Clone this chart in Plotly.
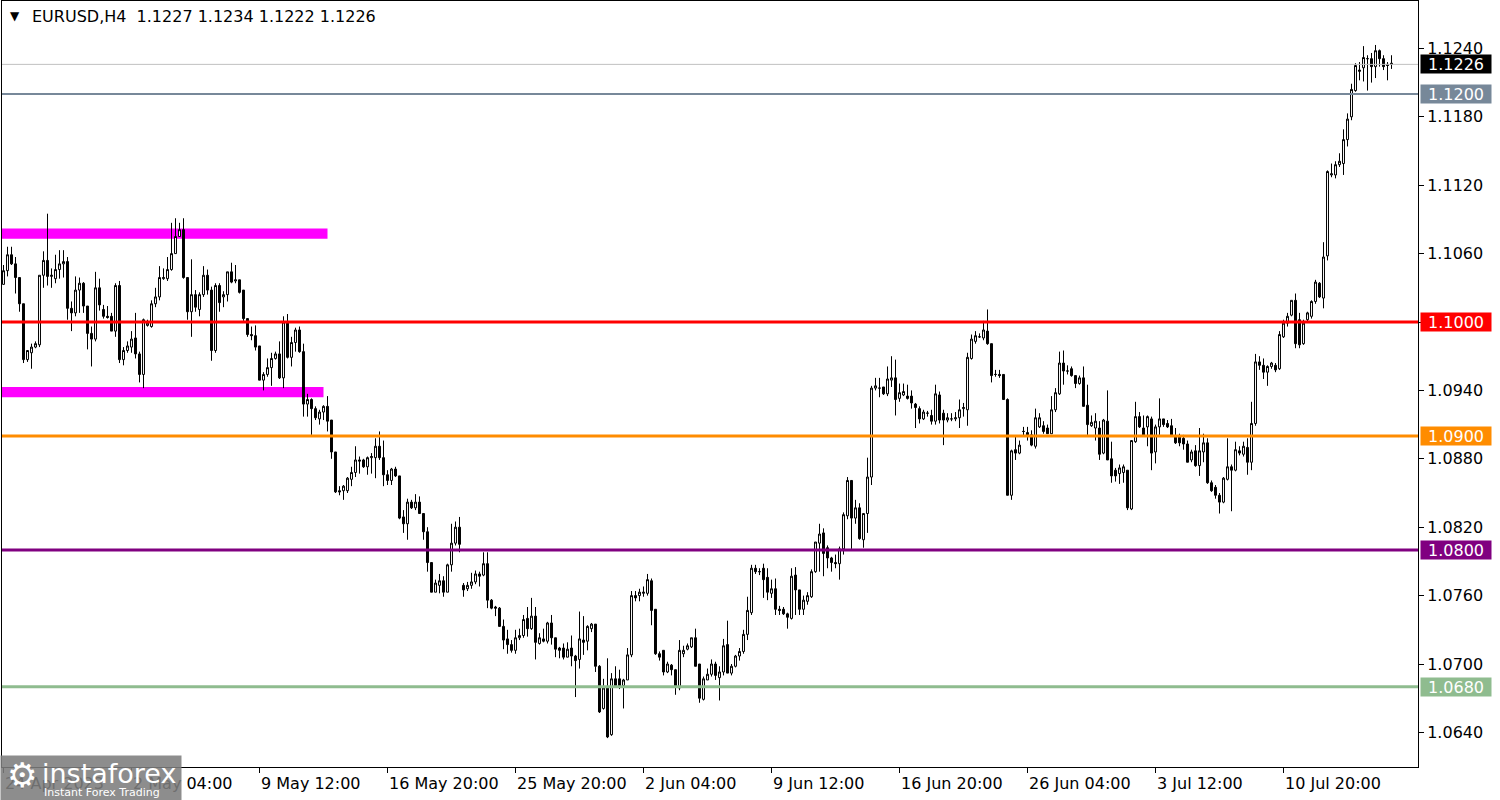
import plotly.graph_objects as go

# ---------------- data (EURUSD H4) ----------------
opens = [
    1.1033, 1.1045, 1.1059, 1.1051, 1.1039, 1.1016, 1.0967, 1.0973, 1.0978, 1.0980,
    1.1041, 1.1054, 1.1040, 1.1038, 1.1046, 1.1051, 1.1053, 1.1012, 1.1008, 1.1028,
    1.1034, 1.1014, 1.0990, 1.0985, 1.1030, 1.1011, 1.1005, 1.1005, 1.0992, 1.1032,
    1.0967, 1.0975, 1.0978, 1.0986, 1.0972, 1.0954, 1.0997, 1.0996, 1.1016, 1.1022,
    1.1038, 1.1038, 1.1046, 1.1060, 1.1075, 1.1081, 1.1039, 1.1009, 1.1024, 1.1011,
    1.1024, 1.1041, 1.1028, 1.0975, 1.1032, 1.1022, 1.1024, 1.1044, 1.1036, 1.1037,
    1.1028, 1.1003, 1.0989, 1.0988, 1.0979, 1.0949, 1.0954, 1.0960, 1.0968, 1.0972,
    1.0951, 1.1000, 1.0969, 1.0982, 1.0993, 1.0974, 1.0928, 1.0932, 1.0924, 1.0915,
    1.0921, 1.0926, 1.0914, 1.0886, 1.0852, 1.0852, 1.0852, 1.0862, 1.0868, 1.0879,
    1.0879, 1.0873, 1.0881, 1.0881, 1.0891, 1.0881, 1.0866, 1.0861, 1.0871, 1.0865,
    1.0829, 1.0823, 1.0842, 1.0837, 1.0842, 1.0832, 1.0816, 1.0789, 1.0763, 1.0769,
    1.0773, 1.0763, 1.0787, 1.0806, 1.0820, 1.0769, 1.0766, 1.0769, 1.0772, 1.0779,
    1.0778, 1.0788, 1.0756, 1.0750, 1.0749, 1.0733, 1.0722, 1.0717, 1.0712, 1.0723,
    1.0725, 1.0740, 1.0731, 1.0742, 1.0718, 1.0722, 1.0720, 1.0736, 1.0723, 1.0714,
    1.0714, 1.0706, 1.0714, 1.0707, 1.0704, 1.0721, 1.0720, 1.0731, 1.0735, 1.0698,
    1.0661, 1.0679, 1.0638, 1.0687, 1.0687, 1.0681, 1.0686, 1.0708, 1.0760, 1.0760,
    1.0762, 1.0762, 1.0773, 1.0748, 1.0709, 1.0712, 1.0693, 1.0699, 1.0695, 1.0679,
    1.0709, 1.0713, 1.0715, 1.0723, 1.0700, 1.0669, 1.0686, 1.0691, 1.0700, 1.0688,
    1.0693, 1.0717, 1.0692, 1.0698, 1.0707, 1.0711, 1.0726, 1.0745, 1.0784, 1.0781,
    1.0784, 1.0776, 1.0762, 1.0766, 1.0748, 1.0748, 1.0744, 1.0740, 1.0778, 1.0765,
    1.0748, 1.0755, 1.0759, 1.0781, 1.0806, 1.0815, 1.0802, 1.0793, 1.0789, 1.0788,
    1.0801, 1.0830, 1.0861, 1.0828, 1.0837, 1.0809, 1.0832, 1.0864, 1.0942, 1.0942,
    1.0943, 1.0937, 1.0949, 1.0951, 1.0933, 1.0936, 1.0935, 1.0935, 1.0928, 1.0924,
    1.0915, 1.0920, 1.0918, 1.0913, 1.0936, 1.0920, 1.0914, 1.0915, 1.0915, 1.0916,
    1.0924, 1.0923, 1.0968, 1.0983, 1.0987, 1.0986, 1.0992, 1.0981, 1.0954, 1.0954,
    1.0954, 1.0932, 1.0848, 1.0888, 1.0885, 1.0904, 1.0903, 1.0901, 1.0891, 1.0908,
    1.0909, 1.0907, 1.0902, 1.0923, 1.0937, 1.0964, 1.0957, 1.0959, 1.0953, 1.0946,
    1.0951, 1.0927, 1.0909, 1.0907, 1.0907, 1.0885, 1.0913, 1.0880, 1.0870, 1.0867,
    1.0868, 1.0870, 1.0836, 1.0895, 1.0917, 1.0907, 1.0908, 1.0915, 1.0886, 1.0908,
    1.0915, 1.0911, 1.0909, 1.0899, 1.0899, 1.0898, 1.0893, 1.0879, 1.0887, 1.0874,
    1.0886, 1.0894, 1.0859, 1.0855, 1.0848, 1.0842, 1.0862, 1.0873, 1.0870, 1.0887,
    1.0884, 1.0890, 1.0877, 1.0911, 1.0965, 1.0962, 1.0956, 1.0961, 1.0962, 1.0959,
    1.0987, 1.0999, 1.1006, 1.1019, 1.1002, 1.0981, 1.1002, 1.1005, 1.1018, 1.1034,
    1.1021, 1.1058, 1.1129, 1.1129, 1.1138, 1.1139, 1.1160, 1.1180, 1.1203, 1.1221,
    1.1223, 1.1231, 1.1231, 1.1224, 1.1238, 1.1231, 1.1226, 1.1227,
]
highs = [
    1.1050, 1.1066, 1.1066, 1.1057, 1.1039, 1.1016, 1.0975, 1.0981, 1.0983, 1.1041,
    1.1062, 1.1095, 1.1047, 1.1059, 1.1063, 1.1063, 1.1057, 1.1018, 1.1040, 1.1039,
    1.1035, 1.1014, 1.0996, 1.1044, 1.1038, 1.1015, 1.1014, 1.1008, 1.1034, 1.1036,
    1.0978, 1.0983, 1.0992, 1.1008, 1.0974, 1.1003, 1.1002, 1.1019, 1.1030, 1.1049,
    1.1047, 1.1057, 1.1087, 1.1091, 1.1087, 1.1091, 1.1039, 1.1055, 1.1028, 1.1026,
    1.1049, 1.1046, 1.1031, 1.1034, 1.1034, 1.1027, 1.1044, 1.1052, 1.1050, 1.1037,
    1.1028, 1.1003, 1.0996, 1.0997, 1.0979, 1.0956, 1.0968, 1.0973, 1.0974, 1.0983,
    1.1005, 1.1007, 1.0987, 1.0995, 1.0996, 1.0981, 1.0937, 1.0933, 1.0926, 1.0923,
    1.0927, 1.0935, 1.0914, 1.0886, 1.0856, 1.0857, 1.0864, 1.0873, 1.0891, 1.0882,
    1.0880, 1.0882, 1.0885, 1.0898, 1.0904, 1.0896, 1.0870, 1.0872, 1.0873, 1.0865,
    1.0835, 1.0845, 1.0844, 1.0849, 1.0847, 1.0832, 1.0820, 1.0789, 1.0774, 1.0779,
    1.0777, 1.0788, 1.0823, 1.0825, 1.0829, 1.0771, 1.0772, 1.0780, 1.0782, 1.0781,
    1.0798, 1.0798, 1.0757, 1.0751, 1.0750, 1.0739, 1.0730, 1.0721, 1.0730, 1.0731,
    1.0743, 1.0750, 1.0758, 1.0750, 1.0727, 1.0731, 1.0737, 1.0743, 1.0723, 1.0715,
    1.0718, 1.0719, 1.0725, 1.0708, 1.0746, 1.0742, 1.0734, 1.0736, 1.0735, 1.0699,
    1.0687, 1.0705, 1.0692, 1.0698, 1.0695, 1.0687, 1.0714, 1.0764, 1.0764, 1.0766,
    1.0768, 1.0779, 1.0775, 1.0748, 1.0711, 1.0712, 1.0702, 1.0700, 1.0695, 1.0721,
    1.0716, 1.0718, 1.0723, 1.0731, 1.0700, 1.0689, 1.0696, 1.0704, 1.0702, 1.0698,
    1.0722, 1.0738, 1.0700, 1.0708, 1.0714, 1.0730, 1.0759, 1.0787, 1.0787, 1.0784,
    1.0788, 1.0784, 1.0774, 1.0775, 1.0751, 1.0750, 1.0745, 1.0784, 1.0785, 1.0765,
    1.0760, 1.0763, 1.0783, 1.0807, 1.0823, 1.0819, 1.0804, 1.0794, 1.0796, 1.0803,
    1.0833, 1.0864, 1.0861, 1.0844, 1.0841, 1.0832, 1.0881, 1.0944, 1.0951, 1.0951,
    1.0943, 1.0961, 1.0970, 1.0967, 1.0946, 1.0946, 1.0945, 1.0940, 1.0929, 1.0926,
    1.0923, 1.0922, 1.0923, 1.0945, 1.0939, 1.0923, 1.0920, 1.0920, 1.0921, 1.0932,
    1.0929, 1.0973, 1.0989, 1.0992, 1.0990, 1.1001, 1.1011, 1.0981, 1.0958, 1.0958,
    1.0954, 1.0933, 1.0888, 1.0900, 1.0896, 1.0908, 1.0908, 1.0905, 1.0924, 1.0920,
    1.0913, 1.0910, 1.0935, 1.0942, 1.0974, 1.0975, 1.0962, 1.0961, 1.0953, 1.0953,
    1.0961, 1.0945, 1.0918, 1.0920, 1.0913, 1.0915, 1.0940, 1.0895, 1.0872, 1.0875,
    1.0875, 1.0870, 1.0896, 1.0930, 1.0921, 1.0918, 1.0918, 1.0917, 1.0910, 1.0933,
    1.0915, 1.0914, 1.0915, 1.0907, 1.0902, 1.0901, 1.0896, 1.0888, 1.0892, 1.0907,
    1.0902, 1.0898, 1.0861, 1.0857, 1.0850, 1.0864, 1.0898, 1.0875, 1.0895, 1.0891,
    1.0895, 1.0898, 1.0930, 1.0972, 1.0970, 1.0968, 1.0962, 1.0965, 1.0964, 1.0992,
    1.1002, 1.1008, 1.1019, 1.1025, 1.1008, 1.1002, 1.1009, 1.1019, 1.1037, 1.1035,
    1.1070, 1.1133, 1.1139, 1.1141, 1.1148, 1.1169, 1.1183, 1.1209, 1.1227, 1.1228,
    1.1242, 1.1234, 1.1236, 1.1243, 1.1239, 1.1234, 1.1228, 1.1234,
]
lows = [
    1.1033, 1.1040, 1.1050, 1.1025, 1.1009, 1.0964, 1.0965, 1.0959, 1.0977, 1.0978,
    1.1030, 1.1032, 1.1030, 1.1034, 1.1038, 1.1039, 1.1002, 1.0992, 1.1005, 1.1008,
    1.1008, 1.0976, 1.0961, 1.0983, 1.1010, 1.1003, 1.1003, 1.0992, 1.0987, 1.0964,
    1.0962, 1.0973, 1.0973, 1.0968, 1.0947, 1.0942, 1.0996, 1.0995, 1.1013, 1.1019,
    1.1037, 1.1036, 1.1045, 1.1060, 1.1075, 1.1038, 1.1002, 1.0987, 1.1009, 1.1005,
    1.1022, 1.1024, 1.0966, 1.0973, 1.1009, 1.1013, 1.1018, 1.1034, 1.1034, 1.1025,
    1.1001, 1.0987, 1.0984, 1.0975, 1.0949, 1.0940, 1.0952, 1.0944, 1.0967, 1.0950,
    1.0942, 1.0968, 1.0961, 1.0974, 1.0973, 1.0917, 1.0917, 1.0901, 1.0914, 1.0910,
    1.0914, 1.0904, 1.0880, 1.0850, 1.0848, 1.0844, 1.0850, 1.0856, 1.0864, 1.0867,
    1.0872, 1.0866, 1.0867, 1.0863, 1.0879, 1.0856, 1.0857, 1.0857, 1.0864, 1.0827,
    1.0815, 1.0809, 1.0836, 1.0835, 1.0832, 1.0809, 1.0781, 1.0763, 1.0763, 1.0762,
    1.0759, 1.0763, 1.0781, 1.0804, 1.0798, 1.0759, 1.0764, 1.0766, 1.0770, 1.0768,
    1.0777, 1.0749, 1.0748, 1.0742, 1.0733, 1.0713, 1.0709, 1.0710, 1.0709, 1.0721,
    1.0723, 1.0724, 1.0730, 1.0704, 1.0717, 1.0719, 1.0718, 1.0717, 1.0706, 1.0705,
    1.0704, 1.0706, 1.0698, 1.0671, 1.0696, 1.0708, 1.0712, 1.0728, 1.0693, 1.0657,
    1.0660, 1.0635, 1.0637, 1.0679, 1.0678, 1.0661, 1.0686, 1.0706, 1.0755, 1.0755,
    1.0759, 1.0760, 1.0734, 1.0708, 1.0703, 1.0690, 1.0692, 1.0690, 1.0673, 1.0677,
    1.0706, 1.0712, 1.0714, 1.0698, 1.0666, 1.0668, 1.0686, 1.0689, 1.0686, 1.0668,
    1.0690, 1.0692, 1.0690, 1.0697, 1.0703, 1.0709, 1.0721, 1.0743, 1.0779, 1.0778,
    1.0758, 1.0756, 1.0758, 1.0743, 1.0743, 1.0743, 1.0731, 1.0739, 1.0743, 1.0743,
    1.0743, 1.0752, 1.0758, 1.0780, 1.0781, 1.0777, 1.0784, 1.0781, 1.0784, 1.0774,
    1.0796, 1.0827, 1.0801, 1.0823, 1.0809, 1.0802, 1.0815, 1.0857, 1.0940, 1.0934,
    1.0936, 1.0935, 1.0943, 1.0918, 1.0930, 1.0935, 1.0932, 1.0924, 1.0907, 1.0911,
    1.0914, 1.0917, 1.0910, 1.0910, 1.0911, 1.0892, 1.0912, 1.0913, 1.0913, 1.0907,
    1.0917, 1.0909, 1.0967, 1.0981, 1.0986, 1.0984, 1.0980, 1.0947, 1.0952, 1.0951,
    1.0932, 1.0848, 1.0844, 1.0879, 1.0884, 1.0900, 1.0896, 1.0891, 1.0889, 1.0907,
    1.0902, 1.0902, 1.0902, 1.0921, 1.0936, 1.0945, 1.0954, 1.0952, 1.0942, 1.0945,
    1.0926, 1.0901, 1.0908, 1.0896, 1.0879, 1.0884, 1.0879, 1.0859, 1.0860, 1.0858,
    1.0859, 1.0835, 1.0835, 1.0894, 1.0907, 1.0901, 1.0891, 1.0870, 1.0876, 1.0901,
    1.0908, 1.0907, 1.0900, 1.0893, 1.0891, 1.0888, 1.0877, 1.0877, 1.0873, 1.0865,
    1.0877, 1.0858, 1.0851, 1.0845, 1.0832, 1.0841, 1.0861, 1.0834, 1.0869, 1.0883,
    1.0882, 1.0866, 1.0870, 1.0909, 1.0958, 1.0950, 1.0944, 1.0959, 1.0956, 1.0958,
    1.0986, 1.0996, 1.1005, 1.0977, 1.0977, 1.0980, 1.1000, 1.1003, 1.1016, 1.1021,
    1.1012, 1.1054, 1.1127, 1.1126, 1.1136, 1.1129, 1.1154, 1.1177, 1.1202, 1.1212,
    1.1211, 1.1203, 1.1210, 1.1214, 1.1224, 1.1221, 1.1212, 1.1222,
]
closes = [
    1.1045, 1.1059, 1.1051, 1.1039, 1.1016, 1.0967, 1.0975, 1.0978, 1.0981, 1.1041,
    1.1054, 1.1040, 1.1041, 1.1046, 1.1051, 1.1053, 1.1012, 1.1008, 1.1028, 1.1034,
    1.1014, 1.0990, 1.0985, 1.1030, 1.1015, 1.1005, 1.1004, 1.0992, 1.1032, 1.0967,
    1.0975, 1.0979, 1.0985, 1.0972, 1.0954, 1.1002, 1.0999, 1.1016, 1.1022, 1.1039,
    1.1039, 1.1046, 1.1060, 1.1075, 1.1081, 1.1039, 1.1009, 1.1024, 1.1013, 1.1024,
    1.1041, 1.1028, 1.0975, 1.1032, 1.1017, 1.1024, 1.1044, 1.1035, 1.1037, 1.1026,
    1.1003, 1.0989, 1.0988, 1.0978, 1.0949, 1.0954, 1.0960, 1.0968, 1.0972, 1.0951,
    1.1000, 1.0969, 1.0982, 1.0993, 1.0974, 1.0928, 1.0932, 1.0924, 1.0916, 1.0921,
    1.0926, 1.0913, 1.0886, 1.0851, 1.0851, 1.0856, 1.0863, 1.0868, 1.0879, 1.0878,
    1.0873, 1.0881, 1.0882, 1.0891, 1.0881, 1.0866, 1.0861, 1.0871, 1.0865, 1.0828,
    1.0823, 1.0842, 1.0837, 1.0842, 1.0832, 1.0816, 1.0789, 1.0763, 1.0771, 1.0773,
    1.0763, 1.0787, 1.0806, 1.0820, 1.0805, 1.0765, 1.0769, 1.0772, 1.0779, 1.0777,
    1.0788, 1.0756, 1.0749, 1.0749, 1.0733, 1.0721, 1.0717, 1.0712, 1.0723, 1.0725,
    1.0739, 1.0731, 1.0742, 1.0719, 1.0723, 1.0720, 1.0736, 1.0723, 1.0713, 1.0712,
    1.0706, 1.0713, 1.0707, 1.0703, 1.0722, 1.0719, 1.0733, 1.0735, 1.0698, 1.0658,
    1.0679, 1.0636, 1.0687, 1.0681, 1.0680, 1.0686, 1.0708, 1.0760, 1.0758, 1.0763,
    1.0763, 1.0774, 1.0747, 1.0709, 1.0706, 1.0693, 1.0700, 1.0695, 1.0680, 1.0712,
    1.0712, 1.0716, 1.0723, 1.0698, 1.0670, 1.0687, 1.0691, 1.0700, 1.0690, 1.0693,
    1.0716, 1.0692, 1.0698, 1.0707, 1.0711, 1.0726, 1.0747, 1.0784, 1.0781, 1.0781,
    1.0774, 1.0763, 1.0766, 1.0748, 1.0747, 1.0744, 1.0741, 1.0777, 1.0765, 1.0748,
    1.0756, 1.0760, 1.0781, 1.0807, 1.0814, 1.0797, 1.0793, 1.0789, 1.0788, 1.0801,
    1.0831, 1.0861, 1.0828, 1.0837, 1.0810, 1.0832, 1.0864, 1.0942, 1.0944, 1.0942,
    1.0937, 1.0950, 1.0951, 1.0932, 1.0938, 1.0939, 1.0933, 1.0929, 1.0925, 1.0915,
    1.0921, 1.0920, 1.0913, 1.0937, 1.0914, 1.0914, 1.0916, 1.0915, 1.0916, 1.0923,
    1.0925, 1.0969, 1.0985, 1.0988, 1.0987, 1.0993, 1.0981, 1.0953, 1.0954, 1.0953,
    1.0932, 1.0848, 1.0887, 1.0885, 1.0892, 1.0904, 1.0901, 1.0892, 1.0916, 1.0916,
    1.0904, 1.0902, 1.0923, 1.0938, 1.0964, 1.0957, 1.0957, 1.0953, 1.0946, 1.0951,
    1.0926, 1.0910, 1.0912, 1.0913, 1.0884, 1.0914, 1.0879, 1.0865, 1.0865, 1.0872,
    1.0873, 1.0837, 1.0896, 1.0917, 1.0908, 1.0901, 1.0917, 1.0885, 1.0908, 1.0915,
    1.0910, 1.0908, 1.0901, 1.0894, 1.0894, 1.0893, 1.0877, 1.0886, 1.0874, 1.0887,
    1.0894, 1.0859, 1.0852, 1.0848, 1.0842, 1.0863, 1.0873, 1.0870, 1.0888, 1.0885,
    1.0891, 1.0877, 1.0911, 1.0965, 1.0962, 1.0956, 1.0961, 1.0964, 1.0958, 1.0989,
    1.0999, 1.1005, 1.1019, 1.0981, 1.0980, 1.0999, 1.1008, 1.1018, 1.1035, 1.1022,
    1.1057, 1.1132, 1.1130, 1.1138, 1.1141, 1.1160, 1.1178, 1.1204, 1.1225, 1.1220,
    1.1232, 1.1231, 1.1224, 1.1238, 1.1231, 1.1224, 1.1225, 1.1226,
]
bar_index = list(range(len(opens)))

# time axis labels (every 32 bars)
tick_bars = [0, 32, 64, 96, 128, 160, 192, 224, 256, 288, 320]
tick_labels = ["24 Apr 2023", "2 May 04:00", "9 May 12:00", "16 May 20:00", "25 May 20:00",
               "2 Jun 04:00", "9 Jun 12:00", "16 Jun 20:00", "26 Jun 04:00", "3 Jul 12:00",
               "10 Jul 20:00"]

# price axis
price_ticks = [1.1240, 1.1180, 1.1120, 1.1060, 1.1000, 1.0940, 1.0880, 1.0820, 1.0760, 1.0700, 1.0640]

# horizontal levels with price tags
level_prices = [1.1200, 1.1000, 1.0900, 1.0800, 1.0680]
level_colors = ["#778899", "#ff0000", "#ff8c00", "#800080", "#8fbc8f"]
level_widths = [2, 3, 3, 3, 3]
current_price = 1.1226

# magenta zones: (price_low, price_high, last_bar)
zone_low = [1.1073, 1.0934]
zone_high = [1.1082, 1.0943]
zone_end_bar = [81, 80]

header_text = "EURUSD,H4\u00a0\u00a01.1227 1.1234 1.1222 1.1226"

# ---------------- layout geometry ----------------
W, H = 1500, 800
ML, MR, MT, MB = 2, 82, 1, 33
PW, PH = W - ML - MR, H - MT - MB
Y_TOP = 1.128158
Y_BOT = 1.060965
X_LEFT = -0.375
X_RIGHT = X_LEFT + PW / 4.0

FONT = "DejaVu Sans"


def px_x(px):
    return (px - ML) / PW


def px_y(py):
    return 1 - (py - MT) / PH


fig = go.Figure()

fig.add_trace(go.Candlestick(
    x=bar_index, open=opens, high=highs, low=lows, close=closes,
    increasing=dict(line=dict(color="black", width=1), fillcolor="white"),
    decreasing=dict(line=dict(color="black", width=1), fillcolor="black"),
    whiskerwidth=0, showlegend=False, hoverinfo="skip",
))

shapes = []
# zones under candles
for lo, hi, end in zip(zone_low, zone_high, zone_end_bar):
    shapes.append(dict(type="rect", xref="x", yref="y", x0=X_LEFT, x1=end, y0=lo, y1=hi,
                       fillcolor="#ff00ff", line=dict(width=0), layer="below"))
# current price thin line
shapes.append(dict(type="line", xref="paper", yref="y", x0=0, x1=1, y0=current_price, y1=current_price,
                   line=dict(color="#c0c0c0", width=1), layer="above"))
# levels
for p, c, w in zip(level_prices, level_colors, level_widths):
    shapes.append(dict(type="line", xref="paper", yref="y", x0=0, x1=1, y0=p, y1=p,
                       line=dict(color=c, width=w), layer="above"))

annotations = []
# price tags on the right axis
tag_prices = [current_price] + level_prices
tag_colors = ["#000000"] + level_colors
for p, c in zip(tag_prices, tag_colors):
    annotations.append(dict(
        xref="paper", yref="y", x=px_x(1420), y=p, xanchor="left", yanchor="middle",
        text=f"{p:.4f}", showarrow=False, bgcolor=c, width=70, height=18, borderpad=0,
        align="center", font=dict(family=FONT, size=16, color="white")))

# time labels (left aligned at tick)
for b, t in zip(tick_bars, tick_labels):
    annotations.append(dict(
        xref="x", yref="paper", x=b, y=0, xanchor="left", yanchor="top", xshift=-1, yshift=-5,
        text=t, showarrow=False, font=dict(family=FONT, size=16, color="black")))

# header
annotations.append(dict(
    xref="paper", yref="paper", x=px_x(15), y=px_y(16), xanchor="center", yanchor="middle",
    text="\u25bc", showarrow=False, font=dict(family=FONT, size=12, color="black")))
annotations.append(dict(
    xref="paper", yref="paper", x=px_x(30), y=px_y(17), xanchor="left", yanchor="middle",
    text=header_text, showarrow=False, font=dict(family=FONT, size=16, color="black")))

# logo box (semi transparent, over the first labels)
annotations.append(dict(
    xref="paper", yref="paper", x=px_x(0), y=px_y(755), xanchor="left", yanchor="top",
    text="", showarrow=False, width=180, height=45, bgcolor="rgba(125,125,125,0.88)", borderpad=0))
annotations.append(dict(
    xref="paper", yref="paper", x=px_x(22), y=px_y(775), xanchor="center", yanchor="middle",
    text="\u2699", showarrow=False, font=dict(family=FONT, size=34, color="white")))
annotations.append(dict(
    xref="paper", yref="paper", x=px_x(40), y=px_y(773), xanchor="left", yanchor="middle",
    text="instaforex", showarrow=False, font=dict(family=FONT, size=27, color="white")))
annotations.append(dict(
    xref="paper", yref="paper", x=px_x(42), y=px_y(792), xanchor="left", yanchor="middle",
    text="Instant Forex Trading", showarrow=False, font=dict(family=FONT, size=11, color="white")))

fig.update_layout(
    width=W, height=H,
    margin=dict(l=ML, r=MR, t=MT, b=MB, pad=0),
    paper_bgcolor="white", plot_bgcolor="white",
    showlegend=False,
    shapes=shapes, annotations=annotations,
    font=dict(family=FONT, size=16, color="black"),
    xaxis=dict(
        range=[X_LEFT, X_RIGHT], rangeslider=dict(visible=False),
        showgrid=False, zeroline=False,
        showline=True, linecolor="black", linewidth=1, mirror=True,
        tickvals=tick_bars, ticktext=[""] * len(tick_bars),
        ticks="outside", ticklen=5, tickcolor="black",
    ),
    yaxis=dict(
        range=[Y_BOT, Y_TOP], side="right",
        showgrid=False, zeroline=False,
        showline=True, linecolor="black", linewidth=1, mirror=True,
        tickvals=price_ticks, ticktext=[f"{v:.4f}" for v in price_ticks],
        ticks="outside", ticklen=5, tickcolor="black",
        tickfont=dict(family=FONT, size=16, color="black"),
    ),
)

fig.write_html("out.html", config={"displayModeBar": False},
               post_script="document.body.style.margin='0px';")
